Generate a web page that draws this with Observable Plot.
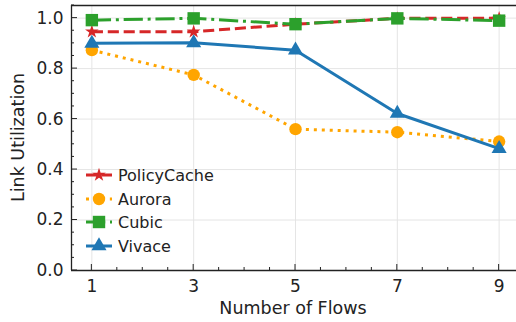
<!DOCTYPE html>
<html><head><meta charset="utf-8">
<script src="https://cdn.jsdelivr.net/npm/d3@7"></script>
<script src="https://cdn.jsdelivr.net/npm/@observablehq/plot@0.6"></script>
<style>
html,body{margin:0;padding:0;background:#fff;}
#chart{width:516px;height:322px;overflow:hidden;}
svg{font-family:"DejaVu Sans",sans-serif;}
</style>
</head><body><div id="chart"></div>
<script>
const flows = [1, 3, 5, 7, 9];
const policyCache = [0.946, 0.946, 0.976, 0.999, 1.0];
const aurora = [0.873, 0.775, 0.560, 0.548, 0.511];
const cubic = [0.992, 0.999, 0.976, 0.999, 0.990];
const vivace = [0.900, 0.902, 0.873, 0.622, 0.483];
const seriesNames = ["PolicyCache", "Aurora", "Cubic", "Vivace"];
const seriesValues = [policyCache, aurora, cubic, vivace];
const colors = ["#d62728", "#ffa500", "#2ca02c", "#1f77b4"];
const symbols = ["star", "circle", "square", "triangle"];
const dashes = ["11.1,4.8", "3,4.95", "19.2,4.8,3,4.8", null];
const radii = [4.3, 6.2, 7.0, 5.6];
const yTicks = [0, 0.2, 0.4, 0.6, 0.8, 1.0];
const xTicks = [1, 3, 5, 7, 9];

const data = seriesNames.flatMap((name, i) =>
  flows.map((f, j) => ({series: name, flows: f, value: seriesValues[i][j]})));

const marks = [
  Plot.gridX(xTicks, {stroke: "#e5e5e5", strokeOpacity: 1, strokeWidth: 1}),
  Plot.gridY(yTicks, {stroke: "#e5e5e5", strokeOpacity: 1, strokeWidth: 1}),
];
seriesNames.forEach((name, i) => {
  const d = data.filter(r => r.series === name);
  marks.push(Plot.line(d, {x: "flows", y: "value", stroke: colors[i], strokeWidth: 3,
    strokeDasharray: dashes[i] || undefined, strokeLinecap: "butt"}));
  marks.push(Plot.dot(d, {x: "flows", y: "value", symbol: () => symbols[i], fill: colors[i], stroke: "none", r: radii[i]}));
});
marks.push(
  Plot.axisX(xTicks, {tickSize: 0, tickPadding: 9, fontSize: 17, label: null, tickFormat: d => String(d), fill: "#222"}),
  Plot.axisY(yTicks, {tickSize: 0, tickPadding: 8, fontSize: 17, label: null, tickFormat: d3.format(".1f"), fill: "#222"}),
  Plot.ruleX([0.6], {stroke: "#222", strokeWidth: 1.3}),
  Plot.ruleY([0], {stroke: "#222", strokeWidth: 1.3}),
  Plot.ruleY([1.05], {stroke: "#222", strokeWidth: 1.3})
);

const plot = Plot.plot({
  width: 516, height: 322,
  marginLeft: 71, marginRight: 0, marginTop: 5, marginBottom: 52,
  style: {fontFamily: "DejaVu Sans, sans-serif", color: "#222", background: "#fff", overflow: "hidden"},
  x: {domain: [0.6, 9.4], range: [71, 519]},
  y: {domain: [0, 1.05], range: [270, 5]},
  marks
});
document.getElementById("chart").appendChild(plot);

const sx = plot.scale("x"), sy = plot.scale("y");
const svg = d3.select(plot);
const x0 = sx.apply(0.6), y0 = sy.apply(0);
const tg = svg.append("g").attr("stroke", "#222").attr("stroke-width", 1);
// y ticks inward
d3.range(0, 1.0501, 0.05).forEach(v => {
  const major = Math.abs(Math.round(v * 5) - v * 5) < 1e-6;
  const y = sy.apply(v);
  tg.append("line").attr("x1", x0).attr("x2", x0 + (major ? 6 : 3)).attr("y1", y).attr("y2", y);
});
// x ticks inward
d3.range(1, 9.01, 0.5).forEach(v => {
  const major = xTicks.includes(v);
  const x = sx.apply(v);
  tg.append("line").attr("x1", x).attr("x2", x).attr("y1", y0).attr("y2", y0 - (major ? 6 : 3));
});
// axis labels
svg.append("text").attr("x", (71 + 515) / 2).attr("y", 314).attr("text-anchor", "middle")
  .attr("font-size", 17.5).attr("fill", "#222").text("Number of Flows");
svg.append("text").attr("transform", `translate(24,${(5 + 270) / 2}) rotate(-90)`).attr("text-anchor", "middle")
  .attr("font-size", 17.5).attr("fill", "#222").text("Link Utilization");
// legend
const lg = svg.append("g");
const legendY = [175, 199, 222, 246];
const symMap = {star: d3.symbolStar, circle: d3.symbolCircle, square: d3.symbolSquare, triangle: d3.symbolTriangle};
seriesNames.forEach((name, i) => {
  const y = legendY[i];
  const line = lg.append("line").attr("x1", 86).attr("x2", 112).attr("y1", y).attr("y2", y)
    .attr("stroke", colors[i]).attr("stroke-width", 3);
  if (dashes[i]) line.attr("stroke-dasharray", dashes[i]);
  lg.append("path").attr("transform", `translate(99,${y})`)
    .attr("d", d3.symbol(symMap[symbols[i]], radii[i] * radii[i] * Math.PI)())
    .attr("fill", colors[i]);
  lg.append("text").attr("x", 118).attr("y", y).attr("dy", "0.35em").attr("font-size", 16)
    .attr("text-anchor", "start").attr("fill", "#222").text(name);
});
</script>
</body></html>
